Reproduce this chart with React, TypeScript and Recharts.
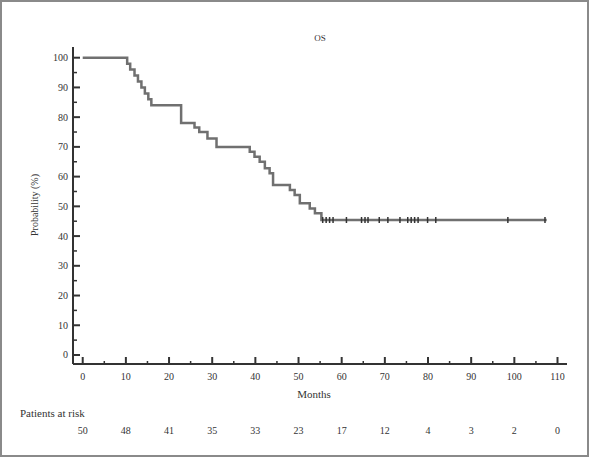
import React from 'react';
import { ComposedChart, Line, Scatter, XAxis, YAxis } from 'recharts';

// Kaplan-Meier steps (months, %)
const eventMonths = [0, 10.3, 11.0, 12.0, 12.8, 13.6, 14.4, 15.2, 15.9, 22.8, 25.9, 27.0, 28.9, 31.0, 38.7, 39.8, 41.0, 42.2, 43.3, 44.1, 48.0, 49.1, 50.3, 52.6, 53.8, 55.3, 107.5];
const survival = [100, 98, 96, 94, 92, 90, 88, 86, 84, 78, 76.5, 75, 72.8, 70, 68.4, 66.7, 65, 62.8, 61.1, 57.2, 55.5, 53.8, 51, 49.3, 47.7, 45.4, 45.4];

// censored patients on the plateau
const censorMonths = [55.6, 56.4, 57.2, 58.0, 61.1, 64.6, 65.4, 66.1, 68.7, 70.7, 73.5, 75.3, 76.1, 76.9, 77.7, 79.9, 81.8, 98.5, 107.1];
const censorLevel = 45.4;

const monthTicks = [0, 5, 10, 15, 20, 25, 30, 35, 40, 45, 50, 55, 60, 65, 70, 75, 80, 85, 90, 95, 100, 105, 110];
const probTicks = [0, 5, 10, 15, 20, 25, 30, 35, 40, 45, 50, 55, 60, 65, 70, 75, 80, 85, 90, 95, 100];
const riskMonths = [0, 10, 20, 30, 40, 50, 60, 70, 80, 90, 100, 110];
const atRisk = [50, 48, 41, 35, 33, 23, 17, 12, 4, 3, 2, 0];

const curve = eventMonths.map((t, i) => ({ t, s: survival[i] }));
const censored = censorMonths.map((t) => ({ t, s: censorLevel }));

const FONT = '"Liberation Serif", "DejaVu Serif", serif';
const INK = '#333';

function MonthTick(props: any) {
  const { x, y, payload } = props;
  const v = payload.value;
  const major = v % 10 === 0;
  const idx = riskMonths.indexOf(v);
  return (
    <g>
      <line x1={x} x2={x} y1={y} y2={y - (major ? 7 : 3)} stroke={INK} strokeWidth={major ? 2 : 1.5} />
      {major && (
        <text x={x} y={y + 16} textAnchor="middle" fontSize={10} fontFamily={FONT} fill={INK}>
          {v}
        </text>
      )}
      {major && idx >= 0 && (
        <text x={x} y={y + 70} textAnchor="middle" fontSize={10} fontFamily={FONT} fill={INK}>
          {atRisk[idx]}
        </text>
      )}
    </g>
  );
}

function ProbTick(props: any) {
  const { x, y, payload } = props;
  const v = payload.value;
  const major = v % 10 === 0;
  return (
    <g>
      <line x1={x} x2={x + (major ? 7 : 4)} y1={y} y2={y} stroke={INK} strokeWidth={major ? 2 : 1.5} />
      {major && (
        <text x={x - 5} y={y + 3.5} textAnchor="end" fontSize={10} fontFamily={FONT} fill={INK}>
          {v}
        </text>
      )}
    </g>
  );
}

function CensorMark(props: any) {
  const { cx, cy } = props;
  return <line x1={cx} x2={cx} y1={cy - 3} y2={cy + 3} stroke="#333" strokeWidth={1.5} />;
}

const textStyle: React.CSSProperties = {
  position: 'absolute',
  fontFamily: FONT,
  color: INK,
  whiteSpace: 'nowrap',
  lineHeight: 1,
};

export default function App() {
  return (
    <div
      style={{
        position: 'absolute',
        left: 0,
        top: 0,
        width: 589,
        height: 457,
        background: '#fff',
        border: '2px solid #8a8a8a',
        boxSizing: 'border-box',
      }}
    >
      <div style={{ position: 'absolute', left: -2, top: -2 }}>
        <ComposedChart width={589} height={457} data={curve} margin={{ top: 47, right: 22, bottom: 53, left: 33 }}>
          <XAxis
            dataKey="t"
            type="number"
            scale="linear"
            domain={[-2.25, 112.2]}
            allowDataOverflow
            ticks={monthTicks}
            interval={0}
            tick={<MonthTick />}
            tickLine={false}
            tickSize={0}
            tickMargin={0}
            axisLine={{ stroke: INK, strokeWidth: 2 }}
            height={40}
          />
          <YAxis
            type="number"
            scale="linear"
            domain={[-3.03, 103.6]}
            allowDataOverflow
            ticks={probTicks}
            interval={0}
            tick={<ProbTick />}
            tickLine={false}
            tickSize={0}
            tickMargin={0}
            axisLine={{ stroke: INK, strokeWidth: 2 }}
            width={40}
          />
          <Line
            dataKey="s"
            type="stepAfter"
            stroke="#707070"
            strokeWidth={2.5}
            dot={false}
            isAnimationActive={false}
          />
          <Scatter data={censored} dataKey="s" shape={<CensorMark />} isAnimationActive={false} />
        </ComposedChart>
      </div>
      <div style={{ ...textStyle, left: 318, top: 32, fontSize: 9, transform: 'translateX(-50%)' }}>OS</div>
      <div
        style={{
          ...textStyle,
          left: 33,
          top: 203,
          fontSize: 10,
          transform: 'translate(-50%, -50%) rotate(-90deg)',
        }}
      >
        Probability (%)
      </div>
      <div style={{ ...textStyle, left: 312, top: 387, fontSize: 11, transform: 'translateX(-50%)' }}>Months</div>
      <div style={{ ...textStyle, left: 18, top: 406, fontSize: 11 }}>Patients at risk</div>
    </div>
  );
}
